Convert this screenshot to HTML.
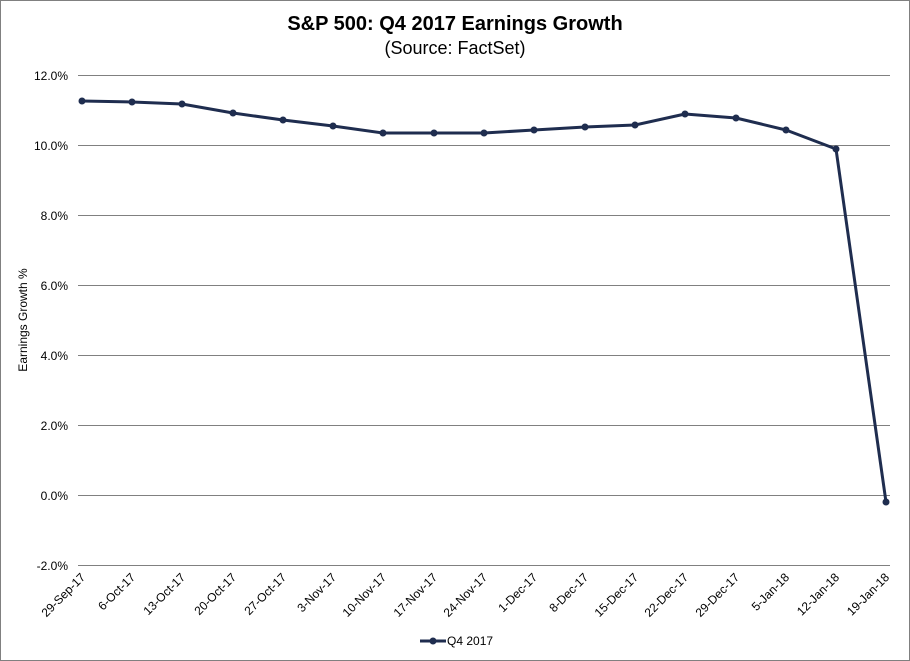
<!DOCTYPE html>
<html><head><meta charset="utf-8"><style>
html,body{margin:0;padding:0;background:#fff;}
svg{display:block;font-family:"Liberation Sans",Arial,sans-serif;}
</style></head><body>
<svg width="910" height="661" viewBox="0 0 910 661" xmlns="http://www.w3.org/2000/svg">
<rect x="0.5" y="0.5" width="909" height="660" fill="#fff" stroke="#808080" stroke-width="1"/>
<text x="455" y="30" text-anchor="middle" font-size="20" font-weight="bold" fill="#000">S&amp;P 500: Q4 2017 Earnings Growth</text>
<text x="455" y="54" text-anchor="middle" font-size="18" fill="#000">(Source: FactSet)</text>
<g stroke="#808080" stroke-width="1">
<line x1="78" y1="75.5" x2="890" y2="75.5"/>
<line x1="78" y1="145.5" x2="890" y2="145.5"/>
<line x1="78" y1="215.5" x2="890" y2="215.5"/>
<line x1="78" y1="285.5" x2="890" y2="285.5"/>
<line x1="78" y1="355.5" x2="890" y2="355.5"/>
<line x1="78" y1="425.5" x2="890" y2="425.5"/>
<line x1="78" y1="495.5" x2="890" y2="495.5"/>
<line x1="78" y1="565.5" x2="890" y2="565.5"/>
</g>
<g font-size="12" text-anchor="end" fill="#000">
<text x="68" y="80">12.0%</text>
<text x="68" y="150">10.0%</text>
<text x="68" y="220">8.0%</text>
<text x="68" y="290">6.0%</text>
<text x="68" y="360">4.0%</text>
<text x="68" y="430">2.0%</text>
<text x="68" y="500">0.0%</text>
<text x="68" y="570">-2.0%</text>
</g>
<text transform="translate(27,320) rotate(-90)" text-anchor="middle" font-size="12" fill="#000">Earnings Growth %</text>
<polyline fill="none" stroke="#1f2d4f" stroke-width="3" stroke-linejoin="round" points="82,101 132,102 182,104 233,113 283,120 333,126 383,133 434,133 484,133 534,130 585,127 635,125 685,114 736,118 786,130 836,149 886,502"/>
<g fill="#1f2d4f">
<circle cx="82" cy="101" r="3.5"/><circle cx="132" cy="102" r="3.5"/><circle cx="182" cy="104" r="3.5"/><circle cx="233" cy="113" r="3.5"/><circle cx="283" cy="120" r="3.5"/><circle cx="333" cy="126" r="3.5"/><circle cx="383" cy="133" r="3.5"/><circle cx="434" cy="133" r="3.5"/><circle cx="484" cy="133" r="3.5"/><circle cx="534" cy="130" r="3.5"/><circle cx="585" cy="127" r="3.5"/><circle cx="635" cy="125" r="3.5"/><circle cx="685" cy="114" r="3.5"/><circle cx="736" cy="118" r="3.5"/><circle cx="786" cy="130" r="3.5"/><circle cx="836" cy="149" r="3.5"/><circle cx="886" cy="502" r="3.5"/>
</g>
<g font-size="12" text-anchor="end" fill="#000">
<text transform="translate(86,578) rotate(-45)">29-Sep-17</text>
<text transform="translate(136,578) rotate(-45)">6-Oct-17</text>
<text transform="translate(186,578) rotate(-45)">13-Oct-17</text>
<text transform="translate(237,578) rotate(-45)">20-Oct-17</text>
<text transform="translate(287,578) rotate(-45)">27-Oct-17</text>
<text transform="translate(337,578) rotate(-45)">3-Nov-17</text>
<text transform="translate(387,578) rotate(-45)">10-Nov-17</text>
<text transform="translate(438,578) rotate(-45)">17-Nov-17</text>
<text transform="translate(488,578) rotate(-45)">24-Nov-17</text>
<text transform="translate(538,578) rotate(-45)">1-Dec-17</text>
<text transform="translate(589,578) rotate(-45)">8-Dec-17</text>
<text transform="translate(639,578) rotate(-45)">15-Dec-17</text>
<text transform="translate(689,578) rotate(-45)">22-Dec-17</text>
<text transform="translate(740,578) rotate(-45)">29-Dec-17</text>
<text transform="translate(790,578) rotate(-45)">5-Jan-18</text>
<text transform="translate(840,578) rotate(-45)">12-Jan-18</text>
<text transform="translate(890,578) rotate(-45)">19-Jan-18</text>
</g>
<line x1="420" y1="641" x2="446" y2="641" stroke="#1f2d4f" stroke-width="3"/>
<circle cx="433" cy="641" r="3.5" fill="#1f2d4f"/>
<text x="447" y="645" font-size="12" fill="#000">Q4 2017</text>
</svg>
</body></html>
